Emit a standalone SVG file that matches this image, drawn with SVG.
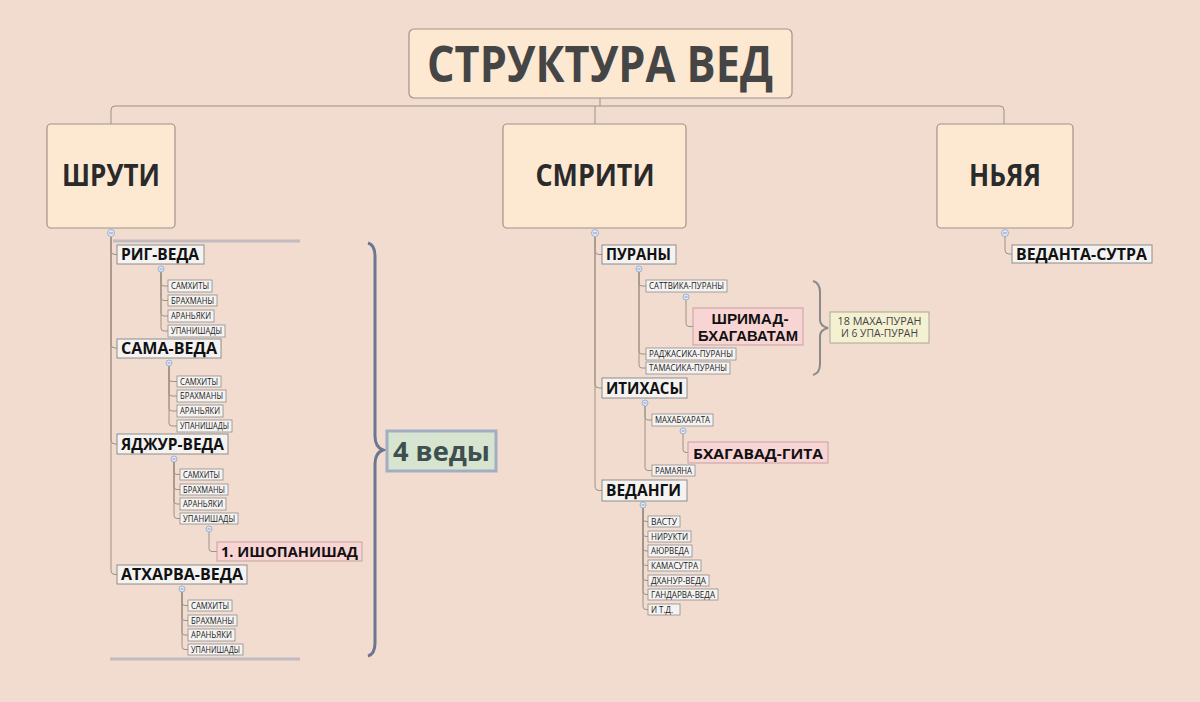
<svg xmlns="http://www.w3.org/2000/svg" width="1200" height="702" viewBox="0 0 1200 702">
<style>
.bg{fill:#f1dccf}
.top{fill:#fde8d2;stroke:#a09488;stroke-width:1.2}
.l2{fill:#f5f3f1;stroke:#8d8d8d;stroke-width:1}
.sm{fill:#f5f3f1;stroke:#8d8d8d;stroke-width:0.8}
.pk{fill:#f9d4d4;stroke:#c4a0a0;stroke-width:1}
.t0{font-family:"Open Sans","Noto Sans",sans-serif;font-weight:700;fill:#454545}
.t1{font-family:"Open Sans","Noto Sans",sans-serif;font-weight:700;fill:#2a2a2a;font-size:31px;text-anchor:middle}
.t2{font-family:"Open Sans","Noto Sans",sans-serif;font-weight:700;fill:#111;font-size:15.5px}
.ts{font-family:"Open Sans","Noto Sans",sans-serif;fill:#1a1a1a;font-size:8.8px}
.con{fill:none;stroke:#a09284;stroke-width:1}
.cc{fill:#dfe8f6;stroke:#8fa3c9;stroke-width:0.8}
.cm{stroke:#6f86b8;stroke-width:0.8}
</style>
<rect class="bg" x="0" y="0" width="1200" height="702"/>

<g id="connectors">
  <path class="con" d="M600,98 V106"/>
  <path class="con" d="M111,124 V110 Q111,106 115,106 H1000 Q1004,106 1004,110 V124"/>
  <path class="con" d="M595,106 V124"/>
  <path class="con" d="M111,237 V250.5 Q111,254.5 115,254.5 H117"/>
  <path class="con" d="M111,237 V344 Q111,348 115,348 H117"/>
  <path class="con" d="M111,237 V440 Q111,444 115,444 H117"/>
  <path class="con" d="M111,237 V570.5 Q111,574.5 115,574.5 H117"/>
  <path class="con" d="M161,272 V283 Q161,286 164,286 H168"/>
  <path class="con" d="M161,272 V297.5 Q161,300.5 164,300.5 H168"/>
  <path class="con" d="M161,272 V313 Q161,316 164,316 H168"/>
  <path class="con" d="M161,272 V328 Q161,331 164,331 H168"/>
  <path class="con" d="M169,366 V378.5 Q169,381.5 172,381.5 H177"/>
  <path class="con" d="M169,366 V393 Q169,396 172,396 H177"/>
  <path class="con" d="M169,366 V408 Q169,411 172,411 H177"/>
  <path class="con" d="M169,366 V423 Q169,426 172,426 H177"/>
  <path class="con" d="M174,462 V471.5 Q174,474.5 177,474.5 H180"/>
  <path class="con" d="M174,462 V486.5 Q174,489.5 177,489.5 H180"/>
  <path class="con" d="M174,462 V501 Q174,504 177,504 H180"/>
  <path class="con" d="M174,462 V515.5 Q174,518.5 177,518.5 H180"/>
  <path class="con" d="M209,532 V548.5 Q209,551.5 212,551.5 H217"/>
  <path class="con" d="M182,592 V602.5 Q182,605.5 185,605.5 H188"/>
  <path class="con" d="M182,592 V617.5 Q182,620.5 185,620.5 H188"/>
  <path class="con" d="M182,592 V632 Q182,635 185,635 H188"/>
  <path class="con" d="M182,592 V646.5 Q182,649.5 185,649.5 H188"/>
  <path class="con" d="M595,237 V250.5 Q595,254.5 599,254.5 H602"/>
  <path class="con" d="M595,237 V384 Q595,388 599,388 H602"/>
  <path class="con" d="M595,237 V486.5 Q595,490.5 599,490.5 H602"/>
  <path class="con" d="M639,272 V283 Q639,286 642,286 H646"/>
  <path class="con" d="M639,272 V351 Q639,354 642,354 H646"/>
  <path class="con" d="M639,272 V365 Q639,368 642,368 H646"/>
  <path class="con" d="M686,300 V323.5 Q686,326.5 689,326.5 H693"/>
  <path class="con" d="M645,406 V417 Q645,420 648,420 H652"/>
  <path class="con" d="M645,406 V467.5 Q645,470.5 648,470.5 H652"/>
  <path class="con" d="M683,434 V449.5 Q683,452.5 686,452.5 H688"/>
  <path class="con" d="M643,508 V518.5 Q643,521.5 646,521.5 H648"/>
  <path class="con" d="M643,508 V533.5 Q643,536.5 646,536.5 H648"/>
  <path class="con" d="M643,508 V548 Q643,551 646,551 H648"/>
  <path class="con" d="M643,508 V562.5 Q643,565.5 646,565.5 H648"/>
  <path class="con" d="M643,508 V577.5 Q643,580.5 646,580.5 H648"/>
  <path class="con" d="M643,508 V591.5 Q643,594.5 646,594.5 H648"/>
  <path class="con" d="M643,508 V606.5 Q643,609.5 646,609.5 H648"/>
  <path class="con" d="M1005,236 V250 Q1005,254 1009,254 H1012"/>
</g>

<g id="collapse">
  <g><circle class="cc" cx="111" cy="233" r="3.5"/><path class="cm" d="M109,233 H113"/></g>
  <g><circle class="cc" cx="595" cy="233" r="3.5"/><path class="cm" d="M593,233 H597"/></g>
  <g><circle class="cc" cx="1005" cy="233" r="3.5"/><path class="cm" d="M1003,233 H1007"/></g>
  <g><circle class="cc" cx="161" cy="269" r="3"/><path class="cm" d="M159.5,269 H162.5"/></g>
  <g><circle class="cc" cx="169" cy="363" r="3"/><path class="cm" d="M167.5,363 H170.5"/></g>
  <g><circle class="cc" cx="174" cy="459" r="3"/><path class="cm" d="M172.5,459 H175.5"/></g>
  <g><circle class="cc" cx="209" cy="529" r="3"/><path class="cm" d="M207.5,529 H210.5"/></g>
  <g><circle class="cc" cx="182" cy="589" r="3"/><path class="cm" d="M180.5,589 H183.5"/></g>
  <g><circle class="cc" cx="639" cy="269" r="3"/><path class="cm" d="M637.5,269 H640.5"/></g>
  <g><circle class="cc" cx="686" cy="297" r="3"/><path class="cm" d="M684.5,297 H687.5"/></g>
  <g><circle class="cc" cx="645" cy="403" r="3"/><path class="cm" d="M643.5,403 H646.5"/></g>
  <g><circle class="cc" cx="683" cy="431" r="3"/><path class="cm" d="M681.5,431 H684.5"/></g>
  <g><circle class="cc" cx="643" cy="505" r="3"/><path class="cm" d="M641.5,505 H644.5"/></g>
</g>

<g id="summary-shruti">
  <path d="M113,241 H300" stroke="#9aa0b8" stroke-width="3" opacity="0.55" fill="none"/>
  <path d="M110,659 H300" stroke="#9aa0b8" stroke-width="3" opacity="0.55" fill="none"/>
  <path d="M368,243 Q375,245 375,256 V436 Q375,447 383,450 Q375,453 375,464 V643 Q375,654 368,656" fill="none" stroke="#5d6a8c" stroke-width="3" opacity="0.9"/>
</g>
<g id="vedy4">
  <rect x="387" y="431" width="109" height="40" fill="#d6e4d0" stroke="#a3adc4" stroke-width="3"/>
  <text class="t0" x="441.5" y="461" font-size="27" text-anchor="middle" style="fill:#3d4f4f" textLength="97" lengthAdjust="spacingAndGlyphs">4 веды</text>
</g>

<g id="summary-purany">
  <path d="M813,281 Q820,283 820,292 V320 Q820,326 828,328 Q820,330 820,336 V364 Q820,373 813,375" fill="none" stroke="#8a8a8a" stroke-width="2"/>
</g>
<g id="purany18">
  <rect x="830" y="312" width="99" height="31" fill="#f4f1d2" stroke="#aaa892" stroke-width="1"/>
  <text class="ts" x="879.5" y="324.5" style="font-size:10.5px;fill:#444" text-anchor="middle" textLength="84" lengthAdjust="spacingAndGlyphs">18 МАХА-ПУРАН</text>
  <text class="ts" x="879.5" y="337" style="font-size:10.5px;fill:#444" text-anchor="middle" textLength="77" lengthAdjust="spacingAndGlyphs">И 6 УПА-ПУРАН</text>
</g>

<g id="root">
  <rect class="top" x="409" y="29" width="383" height="69" rx="5"/>
  <text class="t0" x="600" y="82" font-size="50" text-anchor="middle" textLength="346" lengthAdjust="spacingAndGlyphs">СТРУКТУРА ВЕД</text>
</g>
<g id="shruti">
  <rect class="top" x="47" y="124" width="128" height="104" rx="4"/>
  <text class="t1" x="111" y="186" textLength="98" lengthAdjust="spacingAndGlyphs">ШРУТИ</text>
</g>
<g id="smriti">
  <rect class="top" x="503" y="124" width="183" height="104" rx="4"/>
  <text class="t1" x="595" y="186" textLength="119" lengthAdjust="spacingAndGlyphs">СМРИТИ</text>
</g>
<g id="nyaya">
  <rect class="top" x="937" y="124" width="136" height="104" rx="4"/>
  <text class="t1" x="1005" y="186" textLength="72" lengthAdjust="spacingAndGlyphs">НЬЯЯ</text>
</g>

<g id="rig">
  <rect class="l2" x="117" y="245" width="87" height="19"/>
  <text class="t2" x="121" y="260" textLength="78" lengthAdjust="spacingAndGlyphs">РИГ-ВЕДА</text>
</g>
<g id="rig-1"><rect class="sm" x="168" y="280" width="44" height="12"/><text class="ts" x="171" y="289" textLength="38" lengthAdjust="spacingAndGlyphs">САМХИТЫ</text></g>
<g id="rig-2"><rect class="sm" x="168" y="295" width="49" height="11"/><text class="ts" x="171" y="303.5" textLength="43" lengthAdjust="spacingAndGlyphs">БРАХМАНЫ</text></g>
<g id="rig-3"><rect class="sm" x="168" y="310" width="46" height="12"/><text class="ts" x="171" y="319" textLength="40" lengthAdjust="spacingAndGlyphs">АРАНЬЯКИ</text></g>
<g id="rig-4"><rect class="sm" x="168" y="325" width="57" height="12"/><text class="ts" x="171" y="334" textLength="51" lengthAdjust="spacingAndGlyphs">УПАНИШАДЫ</text></g>

<g id="sama">
  <rect class="l2" x="117" y="339" width="104" height="19"/>
  <text class="t2" x="121" y="354" textLength="96" lengthAdjust="spacingAndGlyphs">САМА-ВЕДА</text>
</g>
<g id="sama-1"><rect class="sm" x="177" y="376" width="44" height="11"/><text class="ts" x="180" y="384.5" textLength="38" lengthAdjust="spacingAndGlyphs">САМХИТЫ</text></g>
<g id="sama-2"><rect class="sm" x="177" y="390" width="49" height="12"/><text class="ts" x="180" y="399" textLength="43" lengthAdjust="spacingAndGlyphs">БРАХМАНЫ</text></g>
<g id="sama-3"><rect class="sm" x="177" y="405" width="46" height="12"/><text class="ts" x="180" y="414" textLength="40" lengthAdjust="spacingAndGlyphs">АРАНЬЯКИ</text></g>
<g id="sama-4"><rect class="sm" x="177" y="420" width="55" height="12"/><text class="ts" x="180" y="429" textLength="49" lengthAdjust="spacingAndGlyphs">УПАНИШАДЫ</text></g>

<g id="yajur">
  <rect class="l2" x="117" y="434" width="111" height="20"/>
  <text class="t2" x="121" y="449.5" textLength="103" lengthAdjust="spacingAndGlyphs">ЯДЖУР-ВЕДА</text>
</g>
<g id="yajur-1"><rect class="sm" x="180" y="469" width="43" height="11"/><text class="ts" x="183" y="477.5" textLength="37" lengthAdjust="spacingAndGlyphs">САМХИТЫ</text></g>
<g id="yajur-2"><rect class="sm" x="180" y="484" width="48" height="11"/><text class="ts" x="183" y="492.5" textLength="42" lengthAdjust="spacingAndGlyphs">БРАХМАНЫ</text></g>
<g id="yajur-3"><rect class="sm" x="180" y="498" width="46" height="12"/><text class="ts" x="183" y="507" textLength="40" lengthAdjust="spacingAndGlyphs">АРАНЬЯКИ</text></g>
<g id="yajur-4"><rect class="sm" x="180" y="513" width="58" height="11"/><text class="ts" x="183" y="521.5" textLength="52" lengthAdjust="spacingAndGlyphs">УПАНИШАДЫ</text></g>
<g id="ishopanishad">
  <rect class="pk" x="217" y="542" width="145" height="19"/>
  <text class="t2" x="221" y="557" style="font-size:15px" textLength="137" lengthAdjust="spacingAndGlyphs">1. ИШОПАНИШАД</text>
</g>

<g id="atharva">
  <rect class="l2" x="117" y="565" width="130" height="19"/>
  <text class="t2" x="121" y="580" textLength="122" lengthAdjust="spacingAndGlyphs">АТХАРВА-ВЕДА</text>
</g>
<g id="ath-1"><rect class="sm" x="188" y="600" width="44" height="11"/><text class="ts" x="191" y="608.5" textLength="38" lengthAdjust="spacingAndGlyphs">САМХИТЫ</text></g>
<g id="ath-2"><rect class="sm" x="188" y="615" width="49" height="11"/><text class="ts" x="191" y="623.5" textLength="43" lengthAdjust="spacingAndGlyphs">БРАХМАНЫ</text></g>
<g id="ath-3"><rect class="sm" x="188" y="629" width="47" height="12"/><text class="ts" x="191" y="638" textLength="41" lengthAdjust="spacingAndGlyphs">АРАНЬЯКИ</text></g>
<g id="ath-4"><rect class="sm" x="188" y="644" width="55" height="11"/><text class="ts" x="191" y="652.5" textLength="49" lengthAdjust="spacingAndGlyphs">УПАНИШАДЫ</text></g>

<g id="purany">
  <rect class="l2" x="602" y="245" width="74" height="19"/>
  <text class="t2" x="606" y="260" textLength="65" lengthAdjust="spacingAndGlyphs">ПУРАНЫ</text>
</g>
<g id="sattvika"><rect class="sm" x="646" y="280" width="81" height="12"/><text class="ts" x="649" y="289" textLength="75" lengthAdjust="spacingAndGlyphs">САТТВИКА-ПУРАНЫ</text></g>
<g id="shrimad">
  <rect class="pk" x="693" y="308" width="110" height="37"/>
  <text x="750" y="324" text-anchor="middle" font-family="'Liberation Sans', Arial, sans-serif" font-weight="700" font-size="14.5" fill="#111" textLength="77" lengthAdjust="spacingAndGlyphs">ШРИМАД-</text>
  <text x="748" y="341" text-anchor="middle" font-family="'Liberation Sans', Arial, sans-serif" font-weight="700" font-size="14.5" fill="#111" textLength="100" lengthAdjust="spacingAndGlyphs">БХАГАВАТАМ</text>
</g>
<g id="rajasika"><rect class="sm" x="646" y="348" width="90" height="12"/><text class="ts" x="649" y="357" textLength="84" lengthAdjust="spacingAndGlyphs">РАДЖАСИКА-ПУРАНЫ</text></g>
<g id="tamasika"><rect class="sm" x="646" y="362" width="84" height="12"/><text class="ts" x="649" y="371" textLength="78" lengthAdjust="spacingAndGlyphs">ТАМАСИКА-ПУРАНЫ</text></g>

<g id="itihasy">
  <rect class="l2" x="602" y="378" width="85" height="20"/>
  <text class="t2" x="606" y="393.5" textLength="77" lengthAdjust="spacingAndGlyphs">ИТИХАСЫ</text>
</g>
<g id="mahabharata"><rect class="sm" x="652" y="414" width="61" height="12"/><text class="ts" x="655" y="423" textLength="55" lengthAdjust="spacingAndGlyphs">МАХАБХАРАТА</text></g>
<g id="gita">
  <rect class="pk" x="688" y="442" width="140" height="21"/>
  <text class="t2" x="693" y="458.5" style="font-size:15px" textLength="130" lengthAdjust="spacingAndGlyphs">БХАГАВАД-ГИТА</text>
</g>
<g id="ramayana"><rect class="sm" x="652" y="465" width="43" height="11"/><text class="ts" x="655" y="473.5" textLength="37" lengthAdjust="spacingAndGlyphs">РАМАЯНА</text></g>

<g id="vedangi">
  <rect class="l2" x="602" y="480" width="85" height="21"/>
  <text class="t2" x="606" y="496" textLength="75" lengthAdjust="spacingAndGlyphs">ВЕДАНГИ</text>
</g>
<g id="vastu"><rect class="sm" x="648" y="516" width="32" height="11"/><text class="ts" x="651" y="524.5" textLength="26" lengthAdjust="spacingAndGlyphs">ВАСТУ</text></g>
<g id="nirukti"><rect class="sm" x="648" y="531" width="43" height="11"/><text class="ts" x="651" y="539.5" textLength="37" lengthAdjust="spacingAndGlyphs">НИРУКТИ</text></g>
<g id="ayurveda"><rect class="sm" x="648" y="545" width="44" height="12"/><text class="ts" x="651" y="554" textLength="38" lengthAdjust="spacingAndGlyphs">АЮРВЕДА</text></g>
<g id="kamasutra"><rect class="sm" x="648" y="560" width="53" height="11"/><text class="ts" x="651" y="568.5" textLength="47" lengthAdjust="spacingAndGlyphs">КАМАСУТРА</text></g>
<g id="dhanur"><rect class="sm" x="648" y="575" width="61" height="11"/><text class="ts" x="651" y="583.5" textLength="55" lengthAdjust="spacingAndGlyphs">ДХАНУР-ВЕДА</text></g>
<g id="gandarva"><rect class="sm" x="648" y="589" width="70" height="11"/><text class="ts" x="651" y="597.5" textLength="64" lengthAdjust="spacingAndGlyphs">ГАНДАРВА-ВЕДА</text></g>
<g id="itd"><rect class="sm" x="648" y="604" width="32" height="11"/><text class="ts" x="651" y="612.5" textLength="22" lengthAdjust="spacingAndGlyphs">И Т.Д.</text></g>

<g id="vedanta-sutra">
  <rect class="l2" x="1012" y="245" width="140" height="18"/>
  <text class="t2" x="1016" y="259.5" textLength="131" lengthAdjust="spacingAndGlyphs">ВЕДАНТА-СУТРА</text>
</g>
</svg>
